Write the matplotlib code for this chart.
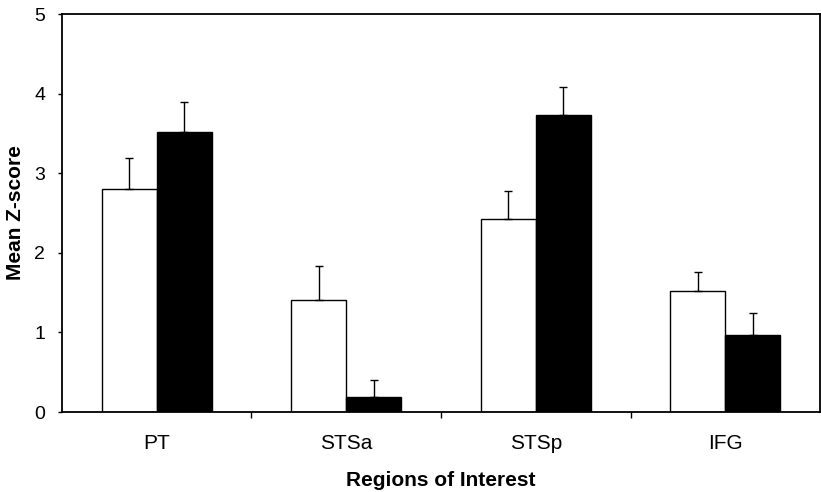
import matplotlib.pyplot as plt
import numpy as np

plt.rcParams['font.family'] = ['Liberation Sans', 'DejaVu Sans']

# -------Mean Z-score per region----------------------------
regions = ['PT', 'STSa', 'STSp', 'IFG']
white_vals = [2.80, 1.41, 2.42, 1.52]
white_err = [0.39, 0.42, 0.36, 0.24]
black_vals = [3.52, 0.19, 3.73, 0.97]
black_err = [0.38, 0.21, 0.35, 0.27]

fig = plt.figure(figsize=(8.21, 4.92), dpi=100)
ax = fig.add_axes([0.0755, 0.1626, 0.9233, 0.8089])

ind = np.arange(len(regions))  # category centres
width = 0.29

ax.bar(ind - width / 2, white_vals, width, color='white', edgecolor='black',
       linewidth=1.0, yerr=[np.zeros(len(white_err)), white_err],
       error_kw=dict(ecolor='black', elinewidth=1.0, capsize=3, capthick=1.0))
ax.bar(ind + width / 2, black_vals, width, color='black', edgecolor='black',
       linewidth=1.0, yerr=[np.zeros(len(black_err)), black_err],
       error_kw=dict(ecolor='black', elinewidth=1.0, capsize=3, capthick=1.0))

ax.set_xlim(-0.5, len(regions) - 0.5)
ax.set_ylim(0, 5)
ax.set_yticks(np.arange(0, 6, 1))
ax.tick_params(axis='y', direction='out', length=3, width=1, labelsize=14, pad=9)

# labels at category centres, small tick marks at the boundaries
ax.set_xticks(ind)
ax.set_xticklabels(regions, fontsize=15)
ax.tick_params(axis='x', length=0, pad=15.5)
ax.set_xticks(np.arange(0.5, len(regions) - 0.5, 1), minor=True)
ax.tick_params(axis='x', which='minor', direction='out', length=4, width=1)

for s in ax.spines.values():
    s.set_linewidth(1.3)

ax.set_ylabel('Mean Z-score', fontsize=15, fontweight='bold', labelpad=7)
ax.set_xlabel('Regions of Interest', fontsize=15, fontweight='bold', labelpad=13)

plt.savefig('out.png', dpi=100)
